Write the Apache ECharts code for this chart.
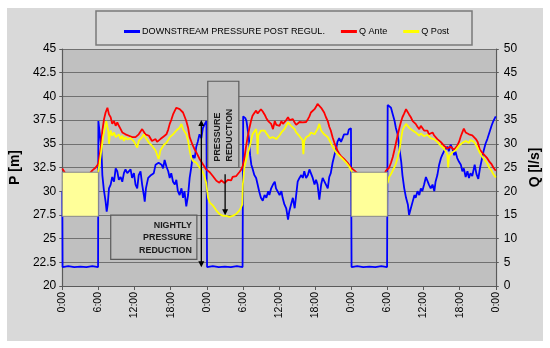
<!DOCTYPE html>
<html><head><meta charset="utf-8">
<script src="https://cdn.jsdelivr.net/npm/echarts@6/dist/echarts.min.js"></script>
<style>html,body{margin:0;padding:0;background:#fff}#c{width:550px;height:348px}</style>
</head><body><div id="c"></div>
<script>
// ---- data (hour since start, value) ----
const seriesNames = ['DOWNSTREAM PRESSURE POST REGUL.', 'Q Ante', 'Q Post'];
// downstream pressure [m] (left axis)
const pressurePost = [[0,30],[0.05,22.0],[1,22.1],[2,22.0],[3,22.05],[4,22.0],[5,22.1],[5.95,22.0],
[6.0,37.4],[6.3,37.3],[6.5,34.5],[6.66,31.7],[6.9,30.2],[7.2,28.9],[7.38,27.85],[7.55,28.6],[7.76,30.3],[8.04,30.7],[8.3,31.5],[8.6,31.0],[8.87,32.4],[9.14,32.1],[9.4,31.2],[9.7,31.5],[9.97,31.0],[10.24,31.9],[10.5,32.3],[10.8,31.9],[11.07,32.1],[11.35,32.3],[11.6,31.4],[11.9,31.9],[12.17,30.7],[12.45,30.3],[12.7,31.7],[13.0,32.1],[13.27,30.7],[13.55,29.6],[13.7,28.9],[13.9,30.3],[14.27,31.4],[14.65,31.65],[15.2,31.9],[15.5,32.8],[16.0,33.0],[16.2,33.0],[16.5,32.8],[16.75,32.4],[17.0,33.3],[17.3,32.6],[17.6,32.1],[17.85,31.4],[18.1,31.9],[18.4,31.0],[18.7,30.7],[18.95,31.2],[19.2,30.0],[19.5,29.6],[19.8,30.3],[20.06,29.3],[20.3,30.0],[20.6,28.4],[20.9,29.6],[21.16,31.4],[21.4,32.4],[21.7,33.8],[22.0,33.5],[22.26,34.7],[22.5,35.2],[22.8,36.0],[23.1,35.6],[23.36,36.65],[23.6,37.0],[23.95,37.4],
[24.05,22.0],[25,22.1],[26,22.0],[27,22.05],[28,22.0],[29,22.1],[29.95,22.0],
[30.05,37.9],[30.4,37.7],[30.6,37.4],[31.0,35.6],[31.2,33.8],[31.4,32.8],[31.6,32.4],[31.9,31.7],[32.2,31.4],[32.45,30.7],[32.7,30.0],[33.0,29.3],[33.3,29.0],[33.6,29.6],[33.9,29.3],[34.2,30.0],[34.4,29.6],[34.7,30.3],[35.0,30.7],[35.3,31.0],[35.5,30.3],[35.8,30.1],[36.1,29.6],[36.4,30.0],[36.6,29.3],[36.9,28.6],[37.2,28.2],[37.5,27.0],[37.7,27.85],[38.0,28.6],[38.3,29.3],[38.6,28.2],[38.8,29.3],[39.1,31.0],[39.4,31.4],[39.7,31.7],[39.95,31.4],[40.2,32.1],[40.5,31.4],[40.8,31.7],[41.05,32.3],[41.3,32.1],[41.6,31.4],[41.9,30.7],[42.15,31.2],[42.4,30.7],[42.7,29.1],[43.0,30.7],[43.25,31.4],[43.5,31.5],[43.8,30.7],[44.1,30.3],[44.35,31.5],[44.6,31.9],[44.9,33.0],[45.2,33.8],[45.5,34.5],[45.7,35.2],[46.0,35.6],[46.3,35.2],[46.56,35.6],[46.8,36.0],[47.1,36.1],[47.4,36.0],[47.6,36.5],[47.95,36.65],
[48.05,22.0],[49,22.1],[50,22.0],[51,22.05],[52,22.0],[53,22.1],[53.95,22.0],
[54.05,39.1],[54.3,38.9],[54.6,38.8],[54.9,38.1],[55.2,37.4],[55.4,36.7],[55.7,36.0],[56.0,34.5],[56.3,33.1],[56.5,31.7],[56.8,30.3],[57.1,29.3],[57.4,28.6],[57.6,27.5],[57.9,28.2],[58.2,28.9],[58.5,29.6],[58.7,29.3],[59.0,30.0],[59.3,29.6],[59.56,30.3],[59.8,30.0],[60.1,30.7],[60.4,31.5],[60.7,31.4],[60.9,30.7],[61.2,30.3],[61.5,30.7],[61.8,30.0],[62.0,31.0],[62.3,31.7],[62.6,32.8],[62.9,33.5],[63.1,33.8],[63.4,34.2],[63.7,34.4],[64.0,34.7],[64.2,34.2],[64.5,34.9],[64.8,34.5],[65.1,33.8],[65.3,34.2],[65.6,33.5],[65.9,33.1],[66.2,32.8],[66.45,32.1],[66.7,32.4],[67.0,31.5],[67.3,32.1],[67.55,31.4],[67.8,31.9],[68.1,31.6],[68.5,32.8],[68.8,31.8],[69.1,31.3],[69.4,32.5],[69.7,33.4],[70.0,34.3],[70.3,35.0],[70.6,35.5],[71.0,36.3],[71.3,36.9],[71.6,37.4],[72,37.9]];
// upstream flow [l/s] (right axis)
const qAnte = [[0,24.8],[0.3,24.4],[0.6,23.6],[1,23.2],[2,23.4],[3,23.0],[4,23.3],[4.6,23.8],[5.0,24.4],[5.56,25.0],[6.0,25.8],[6.4,29.2],[6.66,32.8],[6.94,35.2],[7.2,36.6],[7.5,37.6],[7.76,36.2],[8.04,35.6],[8.3,34.2],[8.6,34.8],[8.87,33.8],[9.14,34.5],[9.4,33.8],[9.7,33.1],[9.97,32.4],[10.24,32.8],[10.5,32.0],[10.8,32.4],[11.07,31.7],[11.35,32.0],[11.6,31.4],[11.9,31.7],[12.17,31.4],[12.45,31.8],[12.7,32.0],[13.0,32.6],[13.27,33.1],[13.55,32.8],[13.8,32.0],[14.1,32.4],[14.4,31.7],[14.65,31.4],[14.9,30.6],[15.2,31.0],[15.5,31.0],[15.75,30.4],[16.0,30.6],[16.3,31.0],[16.6,31.0],[16.9,31.6],[17.3,32.0],[17.6,33.0],[17.85,34.2],[18.1,35.0],[18.4,36.2],[18.7,37.0],[18.95,37.6],[19.2,38.0],[19.5,37.3],[19.8,37.6],[20.06,36.6],[20.3,37.0],[20.6,34.8],[20.9,33.4],[21.16,31.4],[21.4,30.6],[21.7,29.6],[22.0,28.8],[22.26,28.2],[22.5,27.6],[22.8,26.8],[23.1,26.2],[23.36,25.8],[23.6,25.2],[23.9,24.6],[24.2,24.4],[24.5,24.0],[24.75,23.6],[25.0,23.2],[25.3,22.8],[25.6,22.2],[25.85,22.0],[26.1,21.8],[26.4,22.3],[26.7,22.2],[26.95,21.7],[27.2,21.8],[27.5,22.4],[27.8,22.6],[28.05,22.3],[28.3,23.0],[28.6,22.8],[28.9,23.2],[29.15,23.5],[29.4,24.0],[29.7,24.5],[30.0,25.4],[30.25,27.0],[30.5,29.2],[30.8,31.5],[31.1,33.4],[31.35,34.8],[31.6,35.9],[31.9,36.5],[32.2,37.0],[32.45,36.4],[32.7,36.6],[33.0,37.3],[33.3,36.8],[33.6,36.2],[33.9,35.4],[34.2,34.8],[34.45,34.4],[34.7,34.2],[35.0,33.1],[35.3,34.8],[35.55,34.0],[35.8,34.2],[36.1,33.8],[36.4,34.8],[36.65,34.2],[36.9,34.5],[37.2,35.0],[37.5,35.6],[37.75,35.0],[38.0,34.8],[38.3,35.2],[38.6,34.5],[38.85,34.0],[39.1,33.8],[39.4,34.6],[39.7,34.2],[39.95,34.5],[40.2,34.8],[40.5,34.6],[40.8,35.2],[41.05,35.8],[41.3,36.6],[41.6,36.9],[41.9,37.3],[42.15,37.8],[42.4,38.4],[42.7,38.7],[43.0,37.6],[43.25,38.0],[43.5,36.6],[43.8,35.6],[44.1,34.8],[44.35,33.6],[44.6,32.8],[44.9,31.4],[45.2,30.2],[45.45,29.4],[45.7,28.6],[46.0,27.9],[46.3,27.4],[46.55,27.1],[46.8,26.8],[47.1,26.5],[47.4,26.0],[47.65,25.6],[47.9,25.0],[48.2,24.6],[48.5,24.4],[48.8,24.2],[49.2,23.6],[50,23.2],[51,23.0],[52,23.3],[53,23.2],[53.5,23.6],[53.75,24.3],[54.05,24.0],[54.3,25.0],[54.6,26.0],[54.9,27.2],[55.15,28.6],[55.4,30.0],[55.7,31.8],[56.0,33.4],[56.25,34.6],[56.5,35.6],[56.8,36.4],[57.1,37.3],[57.4,37.0],[57.6,36.2],[57.9,35.6],[58.2,34.8],[58.45,34.6],[58.7,34.2],[59.0,33.6],[59.3,33.1],[59.55,33.8],[59.8,33.4],[60.1,32.8],[60.4,32.4],[60.65,32.8],[60.9,32.0],[61.2,32.2],[61.5,32.4],[61.75,31.8],[62.0,31.4],[62.3,31.0],[62.6,30.6],[62.85,30.4],[63.1,30.0],[63.4,29.6],[63.7,29.2],[63.95,29.0],[64.2,28.9],[64.5,29.4],[64.8,29.2],[65.05,28.7],[65.3,28.9],[65.6,29.6],[65.9,30.4],[66.2,31.6],[66.45,32.4],[66.7,33.2],[67.0,32.4],[67.3,32.8],[67.55,32.0],[67.8,32.4],[68.1,31.8],[68.4,31.7],[68.7,31.0],[69.0,30.4],[69.35,28.8],[69.7,28.2],[70.0,27.8],[70.5,27.1],[70.9,26.3],[71.3,25.7],[71.6,25.0],[72,24.3]];
// downstream flow [l/s] (right axis)
const qPost = [[0,22.5],[1,22.0],[2,21.8],[3,22.2],[4,21.9],[5,22.4],[5.7,23.0],[6.0,24.3],[6.2,25.8],[6.55,29.2],[6.77,31.4],[7.1,33.4],[7.3,34.8],[7.5,34.5],[7.65,32.6],[7.76,30.0],[7.9,31.8],[8.04,32.8],[8.3,31.7],[8.6,32.4],[8.87,31.4],[9.14,31.0],[9.4,32.0],[9.7,31.0],[9.97,31.7],[10.24,30.6],[10.5,31.4],[10.8,30.9],[11.07,30.6],[11.35,31.2],[11.6,31.0],[11.9,30.5],[12.17,30.2],[12.45,29.2],[12.7,30.6],[13.0,31.0],[13.27,31.4],[13.55,32.0],[13.8,31.4],[14.1,30.8],[14.4,30.2],[14.65,29.8],[14.9,29.6],[15.2,29.2],[15.5,28.6],[15.75,28.2],[16.0,26.8],[16.15,27.6],[16.3,28.6],[16.6,29.2],[16.9,29.8],[17.3,30.2],[17.6,30.8],[17.85,31.4],[18.1,31.6],[18.4,32.0],[18.7,32.4],[18.95,32.8],[19.2,33.0],[19.5,33.4],[19.8,34.2],[20.06,33.1],[20.3,33.4],[20.6,32.0],[20.9,30.6],[21.16,28.6],[21.4,27.2],[21.7,26.4],[22.0,26.2],[22.26,26.0],[22.5,25.6],[22.8,25.0],[23.1,24.6],[23.36,24.0],[23.6,23.2],[23.9,21.8],[24.2,18.7],[24.5,17.6],[24.75,17.3],[25.0,17.0],[25.3,16.5],[25.6,15.9],[25.85,15.5],[26.1,15.2],[26.4,15.0],[26.7,14.8],[26.95,14.9],[27.2,14.8],[27.5,14.6],[27.8,14.6],[28.05,14.8],[28.3,14.8],[28.6,14.9],[28.9,15.2],[29.15,15.5],[29.4,15.9],[29.7,16.6],[29.9,17.2],[30.0,21.5],[30.25,25.0],[30.5,26.4],[30.8,27.8],[31.1,29.2],[31.35,30.6],[31.6,32.0],[31.9,32.6],[32.2,33.1],[32.35,31.5],[32.45,27.8],[32.55,31.8],[32.7,32.0],[33.0,32.8],[33.3,33.1],[33.6,32.8],[33.9,32.2],[34.2,31.7],[34.45,31.2],[34.7,31.0],[35.0,31.4],[35.3,31.7],[35.55,31.0],[35.8,31.4],[36.1,31.8],[36.4,32.4],[36.65,32.6],[36.9,33.1],[37.2,33.8],[37.5,34.5],[37.7,34.8],[38.0,33.8],[38.3,33.4],[38.6,33.1],[38.85,32.4],[39.1,32.0],[39.4,31.6],[39.7,31.4],[39.9,30.8],[40.05,27.8],[40.2,30.6],[40.5,31.4],[40.8,31.4],[41.05,31.8],[41.3,32.4],[41.6,32.2],[41.9,32.0],[42.15,32.6],[42.4,33.1],[42.7,34.2],[43.0,32.8],[43.25,32.6],[43.5,32.0],[43.8,31.8],[44.1,31.4],[44.35,30.8],[44.6,30.2],[44.9,29.4],[45.2,28.8],[45.45,28.2],[45.7,27.8],[46.0,27.5],[46.3,27.2],[46.55,26.8],[46.8,26.4],[47.1,26.1],[47.4,25.8],[47.65,25.2],[47.9,24.6],[48.2,23.8],[48.6,23.0],[49,22.5],[50,21.8],[51,21.5],[52,21.6],[53,21.4],[53.7,21.5],[54.05,21.8],[54.3,23.0],[54.6,23.6],[54.9,24.4],[55.15,25.0],[55.4,25.8],[55.7,27.0],[56.0,28.6],[56.25,30.8],[56.5,32.8],[56.8,33.6],[57.1,34.2],[57.35,33.8],[57.6,33.4],[57.9,33.0],[58.2,32.8],[58.45,32.6],[58.7,32.4],[59.0,32.0],[59.3,31.7],[59.55,32.2],[59.8,32.0],[60.1,31.6],[60.4,31.4],[60.65,31.9],[60.9,31.7],[61.2,31.2],[61.5,31.4],[61.75,31.0],[62.0,30.6],[62.3,30.4],[62.6,30.0],[62.85,29.6],[63.1,29.2],[63.4,29.0],[63.7,28.6],[63.95,27.8],[64.1,25.0],[64.25,27.4],[64.5,27.2],[64.8,28.2],[65.05,28.0],[65.3,28.6],[65.6,29.0],[65.9,29.6],[66.2,30.0],[66.45,30.2],[66.7,30.6],[67.0,30.6],[67.3,30.2],[67.55,30.2],[67.8,30.8],[68.1,30.6],[68.4,30.4],[68.8,29.6],[69.1,28.8],[69.35,28.1],[69.7,27.4],[70.0,27.0],[70.5,26.0],[70.9,25.0],[71.3,24.3],[71.6,23.6],[72,22.9]];

// axes
const pAxis = {min: 20, max: 45, step: 2.5};
const qAxis = {min: 0, max: 50, step: 5};
const hourAxis = {min: 0, max: 72, step: 6};

// annotations (in data units: hour, P)
const nightHighlights = [[0, 6], [48, 54]];
const highlightP = [27.35, 32];
const nightlyBox = {t: [8.05, 22.36], p: [22.81, 27.47], lines: ['NIGHTLY', 'PRESSURE', 'REDUCTION']};
const reductionBox = {t: [24.17, 29.33], p: [32.5, 41.6], lines: ['PRESSURE', 'REDUCTION']};
const longArrow = {t: 23.1, p: [21.97, 37.5]};
const shortArrow = {t: 27.05, p: [27.45, 31.8]};

// font helpers
const mctx = document.createElement('canvas').getContext('2d');
function textW(txt, font) { mctx.font = font; return mctx.measureText(txt).width; }
const narrowOK = textW('DOWNSTREAM PRESSURE', "11px 'Liberation Sans Narrow', monospace") !== textW('DOWNSTREAM PRESSURE', '11px monospace');
const legFam = narrowOK ? 'Liberation Sans Narrow' : 'Liberation Sans';
const legSize = Math.min(12, Math.round(100 * 184 / textW(seriesNames[0], `100px '${legFam}'`) * 10) / 10);
const boxFam = narrowOK ? 'Liberation Sans Narrow' : 'Liberation Sans';
const boxSize = Math.min(12, Math.round(100 * 53 / textW('REDUCTION', `bold 100px '${boxFam}'`) * 10) / 10);

const gridColor = '#707070';
const axisColor = '#5a5a5a';

const option = {
  animation: false,
  backgroundColor: '#ffffff',
  grid: {left: 62, right: 53, top: 49, bottom: 62, show: true, backgroundColor: '#c0c0c0', borderWidth: 0, z: 0},
  legend: {
    data: seriesNames, left: 119, top: 22, itemWidth: 16, itemHeight: 3, itemGap: 16, icon: 'rect',
    textStyle: {fontFamily: legFam, fontSize: legSize, color: '#000', padding: [0, 0, 0, -3]},
    z: 20
  },
  xAxis: {
    type: 'value', min: hourAxis.min, max: hourAxis.max, interval: hourAxis.step,
    axisLine: {show: true, lineStyle: {color: axisColor, width: 1.2}},
    axisTick: {show: true, inside: false, length: 4, lineStyle: {color: axisColor}},
    splitLine: {show: false},
    axisLabel: {rotate: 90, margin: 6, fontFamily: 'Liberation Sans', fontSize: 10.5, color: '#000',
      formatter: v => (v % 24) + ':00'}
  },
  yAxis: [
    {type: 'value', min: pAxis.min, max: pAxis.max, interval: pAxis.step, position: 'left',
     name: 'P [m]', nameLocation: 'middle', nameRotate: 90, nameGap: 36,
     nameTextStyle: {fontFamily: 'Liberation Sans', fontWeight: 'bold', fontSize: 14, color: '#000'},
     axisLine: {show: true, lineStyle: {color: axisColor, width: 1.2}},
     axisTick: {show: true, length: 3, lineStyle: {color: axisColor}},
     splitLine: {show: true, lineStyle: {color: gridColor, width: 1}},
     axisLabel: {margin: 6, fontFamily: 'Liberation Sans', fontSize: 12, color: '#000'}},
    {type: 'value', min: qAxis.min, max: qAxis.max, interval: qAxis.step, position: 'right',
     name: 'Q [l/s]', nameLocation: 'middle', nameRotate: 90, nameGap: 26,
     nameTextStyle: {fontFamily: 'Liberation Sans', fontWeight: 'bold', fontSize: 14, color: '#000'},
     axisLine: {show: true, lineStyle: {color: axisColor, width: 1.2}},
     axisTick: {show: true, length: 3, lineStyle: {color: axisColor}},
     splitLine: {show: false},
     axisLabel: {margin: 8, fontFamily: 'Liberation Sans', fontSize: 12, color: '#000'}}
  ],
  series: [
    {name: seriesNames[0], type: 'line', yAxisIndex: 0, data: pressurePost, showSymbol: false, symbol: 'none',
     lineStyle: {color: '#0000ff', width: 1.8}, itemStyle: {color: '#0000ff'}, z: 2},
    {name: seriesNames[1], type: 'line', yAxisIndex: 1, data: qAnte, showSymbol: false, symbol: 'none',
     lineStyle: {color: '#ff0000', width: 1.8}, itemStyle: {color: '#ff0000'}, z: 3},
    {name: seriesNames[2], type: 'line', yAxisIndex: 1, data: qPost, showSymbol: false, symbol: 'none',
     lineStyle: {color: '#ffff00', width: 1.8}, itemStyle: {color: '#ffff00'}, z: 4}
  ]
};

const chart = echarts.init(document.getElementById('c'), null, {renderer: 'canvas'});
chart.setOption(option);

const px = (t, p) => chart.convertToPixel({xAxisIndex: 0, yAxisIndex: 0}, [t, p]);
const g = [];
// chart area & legend frame
g.push({type: 'rect', z: -10, silent: true, shape: {x: 7, y: 8, width: 536, height: 333}, style: {fill: '#d9d9d9'}});
g.push({type: 'rect', z: 1, silent: true, shape: {x: 96, y: 11, width: 376, height: 34}, style: {fill: '#d9d9d9', stroke: '#7a7a7a', lineWidth: 1.5}});
// night highlight rectangles
nightHighlights.forEach(([a, b]) => {
  const p1 = px(a, highlightP[1]), p2 = px(b, highlightP[0]);
  g.push({type: 'rect', z: 50, silent: true, shape: {x: p1[0], y: p1[1], width: p2[0] - p1[0], height: p2[1] - p1[1]},
    style: {fill: '#ffff99', stroke: '#8a8a8a', lineWidth: 1}});
});
// nightly box
{
  const a = px(nightlyBox.t[0], nightlyBox.p[1]), b = px(nightlyBox.t[1], nightlyBox.p[0]);
  g.push({type: 'rect', z: 50, silent: true, shape: {x: a[0], y: a[1], width: b[0] - a[0], height: b[1] - a[1]},
    style: {fill: '#c0c0c0', stroke: '#5a5a5a', lineWidth: 1.2}});
  nightlyBox.lines.forEach((s, i) => g.push({type: 'text', z: 51, silent: true, x: b[0] - 5, y: a[1] + 10 + i * 12.5,
    style: {text: s, align: 'right', verticalAlign: 'middle', fill: '#1a1a1a', font: `bold ${boxSize}px '${boxFam}'`}}));
}
// pressure reduction box
{
  const a = px(reductionBox.t[0], reductionBox.p[1]), b = px(reductionBox.t[1], reductionBox.p[0]);
  g.push({type: 'rect', z: 50, silent: true, shape: {x: a[0], y: a[1], width: b[0] - a[0], height: b[1] - a[1]},
    style: {fill: '#c0c0c0', stroke: '#5a5a5a', lineWidth: 1.2}});
  reductionBox.lines.forEach((s, i) => g.push({type: 'text', z: 51, silent: true, x: a[0] + 10 + i * 11.5, y: b[1] - 6, rotation: Math.PI / 2,
    style: {text: s, align: 'left', verticalAlign: 'middle', fill: '#1a1a1a', font: `bold ${boxSize}px '${boxFam}'`}}));
}
// arrows
function arrow(t, p0, p1, headTop, headBottom) {
  const top = px(t, p1), bot = px(t, p0);
  const x = top[0];
  g.push({type: 'line', z: 52, silent: true, shape: {x1: x, y1: top[1] + (headTop ? 4 : 0), x2: x, y2: bot[1] - (headBottom ? 4 : 0)}, style: {stroke: '#000', lineWidth: 1.3}});
  if (headTop) g.push({type: 'polygon', z: 52, silent: true, shape: {points: [[x - 3, top[1] + 6], [x + 3, top[1] + 6], [x, top[1]]]}, style: {fill: '#000'}});
  if (headBottom) g.push({type: 'polygon', z: 52, silent: true, shape: {points: [[x - 3, bot[1] - 6], [x + 3, bot[1] - 6], [x, bot[1]]]}, style: {fill: '#000'}});
}
arrow(longArrow.t, longArrow.p[0], longArrow.p[1], true, true);
arrow(shortArrow.t, shortArrow.p[0], shortArrow.p[1], false, true);

chart.setOption({graphic: {elements: g}});
</script>
</body></html>
